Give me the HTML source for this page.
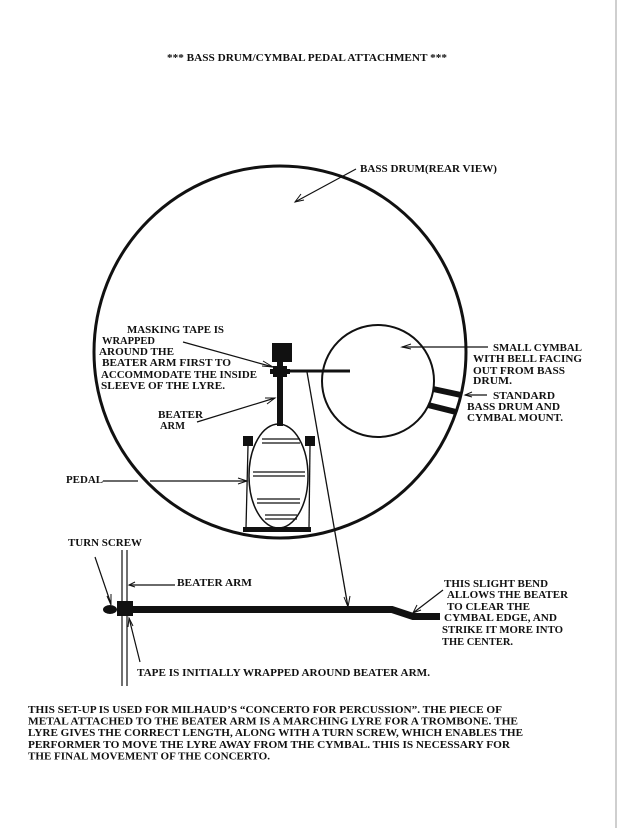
<!DOCTYPE html>
<html>
<head>
<meta charset="utf-8">
<style>
  html,body{margin:0;padding:0;background:#fff;}
  body{width:617px;height:828px;overflow:hidden;}
  svg{display:block;}
  text{font-family:"Liberation Serif",serif;font-weight:bold;font-size:11px;fill:#111;}
</style>
</head>
<body>
<svg width="617" height="828" viewBox="0 0 617 828" xmlns="http://www.w3.org/2000/svg">
  <rect x="0" y="0" width="617" height="828" fill="#fff"/>
  <rect x="615" y="0" width="2" height="828" fill="#cfcfcf"/>

  <!-- Title -->
  <text x="167" y="61" textLength="280" lengthAdjust="spacingAndGlyphs">*** BASS DRUM/CYMBAL PEDAL ATTACHMENT ***</text>

  <!-- Big drum -->
  <circle cx="280" cy="352" r="186" fill="none" stroke="#111" stroke-width="3"/>

  <!-- Cymbal -->
  <circle cx="378" cy="381" r="56" fill="none" stroke="#111" stroke-width="2"/>

  <!-- Mount bars -->
  <line x1="433" y1="389" x2="461" y2="395" stroke="#111" stroke-width="6"/>
  <line x1="428" y1="405" x2="456" y2="412" stroke="#111" stroke-width="6"/>

  <!-- Bass drum label -->
  <text x="360" y="172" textLength="137" lengthAdjust="spacingAndGlyphs">BASS DRUM(REAR VIEW)</text>
  <line x1="356" y1="169" x2="295" y2="202" stroke="#111" stroke-width="1.2"/>
  <polyline points="301,194 295,202 304,200" fill="none" stroke="#111" stroke-width="1"/>

  <!-- Lyre rod -->
  <line x1="280" y1="371" x2="350" y2="371" stroke="#111" stroke-width="3"/>
  <!-- Beater head block -->
  <rect x="272" y="343" width="20" height="19" fill="#111"/>
  <!-- knob -->
  <rect x="273" y="366" width="14" height="11" fill="#111"/>
  <rect x="270" y="369" width="20" height="5" fill="#111"/>
  <!-- shaft -->
  <rect x="277" y="360" width="6" height="66" fill="#111"/>

  <!-- Pedal ellipse -->
  <ellipse cx="278.5" cy="476" rx="29.5" ry="52" fill="none" stroke="#111" stroke-width="1.5"/>
  <g stroke="#111" stroke-width="1.2">
    <line x1="262" y1="439" x2="300" y2="439"/>
    <line x1="262" y1="443" x2="300" y2="443"/>
    <line x1="253" y1="472" x2="305" y2="472"/>
    <line x1="253" y1="476" x2="305" y2="476"/>
    <line x1="257" y1="499" x2="300" y2="499"/>
    <line x1="257" y1="503" x2="300" y2="503"/>
    <line x1="265" y1="515" x2="297" y2="515"/>
    <line x1="265" y1="519" x2="297" y2="519"/>
  </g>
  <!-- posts -->
  <rect x="243" y="436" width="10" height="10" fill="#111"/>
  <rect x="305" y="436" width="10" height="10" fill="#111"/>
  <line x1="248" y1="446" x2="246" y2="528" stroke="#111" stroke-width="1.3"/>
  <line x1="310" y1="446" x2="309" y2="528" stroke="#111" stroke-width="1.3"/>
  <rect x="243" y="527" width="68" height="5" fill="#111"/>

  <!-- Long line from lyre to lower beater -->
  <line x1="307" y1="372" x2="348" y2="607" stroke="#111" stroke-width="1.3"/>
  <polyline points="344,597 348,607 350,596" fill="none" stroke="#111" stroke-width="1"/>

  <!-- Masking tape label -->
  <text x="127" y="333" textLength="97" lengthAdjust="spacingAndGlyphs">MASKING TAPE IS</text>
  <text x="102" y="344" textLength="53" lengthAdjust="spacingAndGlyphs">WRAPPED</text>
  <text x="99" y="355" textLength="75" lengthAdjust="spacingAndGlyphs">AROUND THE</text>
  <text x="102" y="366" textLength="129" lengthAdjust="spacingAndGlyphs">BEATER ARM FIRST TO</text>
  <text x="101" y="378" textLength="156" lengthAdjust="spacingAndGlyphs">ACCOMMODATE THE INSIDE</text>
  <text x="101" y="389" textLength="124" lengthAdjust="spacingAndGlyphs">SLEEVE OF THE LYRE.</text>
  <line x1="183" y1="342" x2="273" y2="367" stroke="#111" stroke-width="1.2"/>
  <polyline points="263,361 273,367 262,366" fill="none" stroke="#111" stroke-width="1"/>

  <!-- Beater arm label (upper) -->
  <text x="158" y="418" textLength="45" lengthAdjust="spacingAndGlyphs">BEATER</text>
  <text x="160" y="429" textLength="25" lengthAdjust="spacingAndGlyphs">ARM</text>
  <line x1="197" y1="422" x2="275" y2="398" stroke="#111" stroke-width="1.2"/>
  <polyline points="265,398 275,398 267,404" fill="none" stroke="#111" stroke-width="1"/>

  <!-- Pedal label -->
  <text x="66" y="483" textLength="37" lengthAdjust="spacingAndGlyphs">PEDAL</text>
  <line x1="103" y1="481" x2="138" y2="481" stroke="#111" stroke-width="1.2"/>
  <line x1="150" y1="481" x2="247" y2="481" stroke="#111" stroke-width="1.2"/>
  <polyline points="238,478 247,481 238,484" fill="none" stroke="#111" stroke-width="1"/>

  <!-- Small cymbal label -->
  <line x1="402" y1="347" x2="488" y2="347" stroke="#111" stroke-width="1.2"/>
  <polyline points="411,344 402,347 411,349" fill="none" stroke="#111" stroke-width="1"/>
  <text x="493" y="351" textLength="89" lengthAdjust="spacingAndGlyphs">SMALL CYMBAL</text>
  <text x="473" y="362" textLength="109" lengthAdjust="spacingAndGlyphs">WITH BELL FACING</text>
  <text x="473" y="374" textLength="92" lengthAdjust="spacingAndGlyphs">OUT FROM BASS</text>
  <text x="473" y="384" textLength="39" lengthAdjust="spacingAndGlyphs">DRUM.</text>

  <!-- Standard mount label -->
  <line x1="465" y1="395" x2="487" y2="395" stroke="#111" stroke-width="1.2"/>
  <polyline points="472,392 465,395 472,397" fill="none" stroke="#111" stroke-width="1"/>
  <text x="493" y="399" textLength="62" lengthAdjust="spacingAndGlyphs">STANDARD</text>
  <text x="467" y="410" textLength="93" lengthAdjust="spacingAndGlyphs">BASS DRUM AND</text>
  <text x="467" y="421" textLength="96" lengthAdjust="spacingAndGlyphs">CYMBAL MOUNT.</text>

  <!-- Lower detail -->
  <text x="68" y="546" textLength="74" lengthAdjust="spacingAndGlyphs">TURN SCREW</text>
  <line x1="122" y1="550" x2="122" y2="686" stroke="#111" stroke-width="1.2"/>
  <line x1="127" y1="550" x2="127" y2="686" stroke="#111" stroke-width="1.2"/>
  <line x1="95" y1="557" x2="111" y2="604" stroke="#111" stroke-width="1.2"/>
  <polyline points="107,596 111,605 111,594" fill="none" stroke="#111" stroke-width="1"/>

  <path d="M130 609.5 L392 609.5 L413 616.5 L440 616.5" fill="none" stroke="#111" stroke-width="7" stroke-linejoin="miter"/>
  <rect x="117" y="601" width="16" height="15" fill="#111"/>
  <ellipse cx="110" cy="609.5" rx="7" ry="4.5" fill="#111"/>

  <line x1="129" y1="585" x2="175" y2="585" stroke="#111" stroke-width="1.2"/>
  <polyline points="135,582 129,585 135,587" fill="none" stroke="#111" stroke-width="1"/>
  <text x="177" y="586" textLength="75" lengthAdjust="spacingAndGlyphs">BEATER ARM</text>

  <line x1="140" y1="662" x2="129" y2="618" stroke="#111" stroke-width="1.2"/>
  <polyline points="128,627 129,618 133,626" fill="none" stroke="#111" stroke-width="1"/>
  <text x="137" y="676" textLength="293" lengthAdjust="spacingAndGlyphs">TAPE IS INITIALLY WRAPPED AROUND BEATER ARM.</text>

  <!-- Bend label -->
  <line x1="443" y1="590" x2="413" y2="613" stroke="#111" stroke-width="1.2"/>
  <polyline points="417,605 413,613 421,610" fill="none" stroke="#111" stroke-width="1"/>
  <text x="444" y="587" textLength="104" lengthAdjust="spacingAndGlyphs">THIS SLIGHT BEND</text>
  <text x="447" y="598" textLength="121" lengthAdjust="spacingAndGlyphs">ALLOWS THE BEATER</text>
  <text x="447" y="610" textLength="83" lengthAdjust="spacingAndGlyphs">TO CLEAR THE</text>
  <text x="444" y="621" textLength="113" lengthAdjust="spacingAndGlyphs">CYMBAL EDGE, AND</text>
  <text x="442" y="633" textLength="121" lengthAdjust="spacingAndGlyphs">STRIKE IT MORE INTO</text>
  <text x="442" y="645" textLength="71" lengthAdjust="spacingAndGlyphs">THE CENTER.</text>

  <!-- Paragraph -->
  <text x="28" y="713" textLength="474" lengthAdjust="spacingAndGlyphs">THIS SET-UP IS USED FOR MILHAUD’S “CONCERTO FOR PERCUSSION”.  THE PIECE OF</text>
  <text x="28" y="724.6" textLength="490" lengthAdjust="spacingAndGlyphs">METAL ATTACHED TO THE BEATER ARM IS A MARCHING LYRE FOR A TROMBONE.  THE</text>
  <text x="28" y="736.2" textLength="495" lengthAdjust="spacingAndGlyphs">LYRE GIVES THE CORRECT LENGTH, ALONG WITH A  TURN SCREW, WHICH ENABLES THE</text>
  <text x="28" y="747.8" textLength="482" lengthAdjust="spacingAndGlyphs">PERFORMER TO MOVE THE LYRE AWAY FROM THE CYMBAL.  THIS IS NECESSARY FOR</text>
  <text x="28" y="759.4" textLength="242" lengthAdjust="spacingAndGlyphs">THE FINAL MOVEMENT OF THE CONCERTO.</text>
</svg>
</body>
</html>
